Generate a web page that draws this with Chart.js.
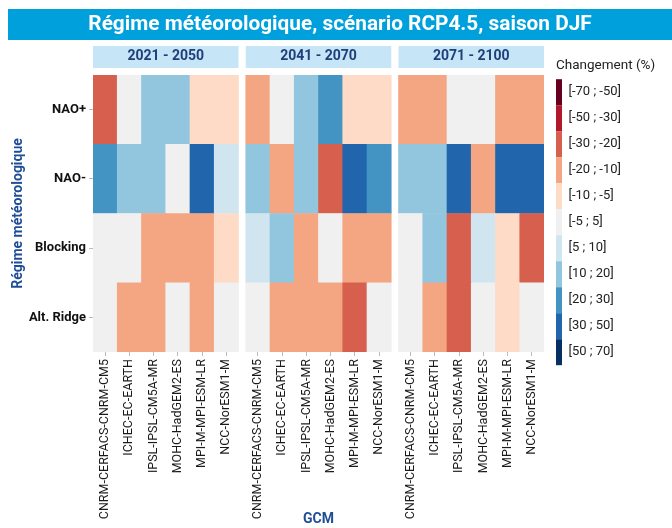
<!DOCTYPE html>
<html>
<head>
<meta charset="utf-8">
<script src="https://cdn.jsdelivr.net/npm/chart.js@4.4.0/dist/chart.umd.min.js"></script>
<style>
  body { margin: 0; background: #fff; }
  #wrap { width: 672px; height: 528px; }
</style>
</head>
<body>
<div id="wrap"><canvas id="myChart" width="672" height="528"></canvas></div>
<script>
/* globals Chart:false */
(() => {
'use strict'

// Data
const periods = ['2021 - 2050', '2041 - 2070', '2071 - 2100']
const gcms = [
  'CNRM-CERFACS-CNRM-CM5',
  'ICHEC-EC-EARTH',
  'IPSL-IPSL-CM5A-MR',
  'MOHC-HadGEM2-ES',
  'MPI-M-MPI-ESM-LR',
  'NCC-NorESM1-M'
]
const regimes = ['NAO+', 'NAO-', 'Blocking', 'Alt. Ridge']

// change in %, 6 GCMs per period, periods in order (bin mid values)
const naoPlus = [-25, 0, 15, 15, -7.5, -7.5, -15, 0, 15, 25, -7.5, -7.5, -15, -15, 0, 0, -15, -15]
const naoMinus = [25, 15, 15, 0, 40, 7.5, 15, -15, 15, -25, 40, 25, 15, 15, 40, -15, 40, 40]
const blocking = [0, 0, -15, -15, -15, -7.5, 7.5, 15, -15, 0, -15, -15, 0, 15, -25, 7.5, -7.5, -25]
const altRidge = [0, -15, -15, 0, -15, 0, 0, -15, -15, -15, -25, 0, 0, -15, -25, 0, -7.5, 0]

const binEdges = [-70, -50, -30, -20, -10, -5, 5, 10, 20, 30, 50, 70]
const binLabels = ['[-70 ; -50]', '[-50 ; -30]', '[-30 ; -20]', '[-20 ; -10]', '[-10 ; -5]',
  '[-5 ; 5]', '[5 ; 10]', '[10 ; 20]', '[20 ; 30]', '[30 ; 50]', '[50 ; 70]']
const binColors = ['#67001f', '#b2182b', '#d6604d', '#f4a582', '#fddbc7',
  '#f0f0f0', '#d1e5f0', '#92c5de', '#4393c3', '#2166ac', '#053061']

// layout
const panelGap = 0.3
const plotLeft = 93
const plotRight = 544
const plotBottom = 352
const legendLeft = 556
const navy = '#1f4e96'

const colorFor = v => {
  for (let i = 0; i < binColors.length; i++) {
    if (v < binEdges[i + 1]) return binColors[i]
  }
  return binColors[binColors.length - 1]
}
const panelStart = p => p * (gcms.length + panelGap)
const xPositions = []
periods.forEach((_, p) => gcms.forEach((_, i) => xPositions.push(panelStart(p) + i + 0.5)))

// stacked bottom to top
const rows = [
  { name: 'Alt. Ridge', values: altRidge },
  { name: 'Blocking', values: blocking },
  { name: 'NAO-', values: naoMinus },
  { name: 'NAO+', values: naoPlus }
]

const datasets = rows.map(r => ({
  label: r.name,
  data: r.values.map((v, k) => ({ x: xPositions[k], y: 1 })),
  backgroundColor: r.values.map(colorFor),
  borderWidth: 0,
  barPercentage: 1,
  categoryPercentage: 1
}))

const decor = {
  id: 'decor',
  afterLayout (chart) {
    // move the legend next to the panels, keep it wide enough for its title
    const lg = chart.legend
    lg.left = legendLeft
    lg.right = chart.width
    lg.width = lg.right - lg.left
  },
  beforeDraw (chart) {
    const { ctx, titleBlock } = chart
    ctx.save()
    ctx.fillStyle = '#00a0dc'
    ctx.fillRect(titleBlock.left, titleBlock.top, titleBlock.width, 31)
    ctx.restore()
  },
  beforeDatasetsDraw (chart) {
    const { ctx, chartArea } = chart
    const x = chart.scales.x
    ctx.save()
    periods.forEach((label, p) => {
      const l = x.getPixelForValue(panelStart(p))
      const r = x.getPixelForValue(panelStart(p) + gcms.length)
      ctx.fillStyle = '#c6e5f6'
      ctx.fillRect(l, chartArea.top - 29, r - l, 22)
      ctx.fillStyle = '#1f3f7a'
      ctx.font = 'bold 14px Roboto'
      ctx.textAlign = 'center'
      ctx.textBaseline = 'middle'
      ctx.fillText(label, (l + r) / 2, chartArea.top - 18)
    })
    ctx.restore()
  }
}

Chart.defaults.font.family = 'Roboto'

const ctx = document.getElementById('myChart')
// eslint-disable-next-line no-unused-vars
const myChart = new Chart(ctx, {
  type: 'bar',
  data: { datasets },
  plugins: [decor],
  options: {
    responsive: false,
    animation: false,
    layout: { padding: { left: 8, top: 9, right: 0, bottom: 0 } },
    scales: {
      x: {
        type: 'linear',
        stacked: true,
        min: 0,
        max: panelStart(periods.length - 1) + gcms.length,
        offset: false,
        afterBuildTicks: s => { s.ticks = xPositions.map(v => ({ value: v })) },
        afterFit: s => { s.height = s.chart.height - plotBottom },
        ticks: {
          autoSkip: false,
          minRotation: 90,
          maxRotation: 90,
          color: '#1a1a1a',
          font: { size: 12.5 },
          padding: 3,
          callback: (v, i) => gcms[i % gcms.length]
        },
        grid: { drawOnChartArea: false, offset: false, tickLength: 4, color: '#bbb' },
        border: { display: false },
        title: { display: true, text: 'GCM', color: navy, font: { size: 14, weight: 'bold' }, padding: 0 }
      },
      y: {
        type: 'linear',
        stacked: true,
        min: 0,
        max: regimes.length,
        afterBuildTicks: s => { s.ticks = regimes.map((_, i) => ({ value: i + 0.5 })) },
        afterFit: s => { s.width = plotLeft - 8 },
        ticks: {
          color: '#111',
          font: { size: 13, weight: 'bold' },
          padding: 3,
          callback: (v, i) => regimes[regimes.length - 1 - i]
        },
        grid: { drawOnChartArea: false, tickLength: 4, color: '#bbb' },
        border: { display: false },
        title: { display: true, text: 'Régime météorologique', color: navy, font: { size: 14, weight: 'bold' }, padding: { top: 2, bottom: 0 } }
      },
      gap: {
        type: 'linear',
        position: 'right',
        display: true,
        afterFit: s => { s.width = s.chart.width - plotRight - s.chart.legend.width },
        ticks: { display: false },
        grid: { display: false },
        border: { display: false }
      }
    },
    plugins: {
      title: {
        display: true,
        text: 'Régime météorologique, scénario RCP4.5, saison DJF',
        color: '#fff',
        font: { size: 20.8, weight: 'bold' },
        padding: { top: 3, bottom: 38 }
      },
      legend: {
        position: 'right',
        align: 'start',
        title: {
          display: true,
          text: 'Changement (%)',
          position: 'start',
          color: '#222',
          font: { size: 13.5 },
          padding: { top: 50, bottom: 4 }
        },
        labels: {
          boxWidth: 6,
          boxHeight: 26,
          padding: 0,
          color: '#222',
          font: { size: 13 },
          generateLabels: () => binLabels.map((t, i) => ({
            text: t,
            fillStyle: binColors[i],
            strokeStyle: binColors[i],
            lineWidth: 0,
            hidden: false,
            index: i
          }))
        }
      },
      tooltip: { enabled: false }
    }
  }
})
})()
</script>
</body>
</html>
